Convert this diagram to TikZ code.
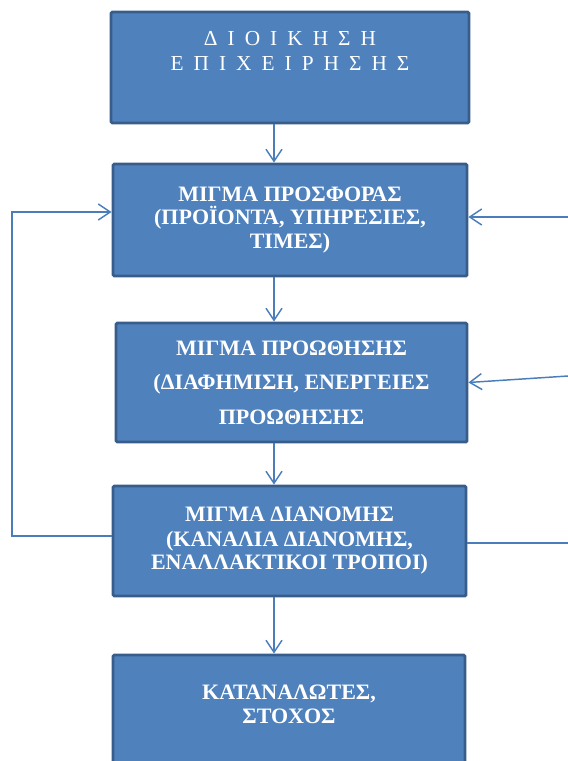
\documentclass[tikz,border=0pt]{standalone}
\usepackage{fontspec}
\setmainfont{Liberation Serif}
\usetikzlibrary{arrows.meta,positioning}
\definecolor{boxfill}{HTML}{4F81BD}
\definecolor{boxline}{HTML}{385D8A}
\definecolor{linkblue}{HTML}{4A7EBB}
\tikzstyle{l2}=[line width=1.1pt]
\tikzstyle{box}=[rectangle, draw=boxline, fill=boxfill, line width=2.2pt, rounded corners=1pt, text=white, align=center, inner sep=0pt, font=\bfseries\fontsize{16.5}{17.5}\selectfont]
\tikzstyle{titlebox}=[box, font=\fontsize{16}{19}\selectfont\addfontfeature{LetterSpace=22}]
\tikzstyle{link}=[l2, color=linkblue]

\begin{document}
\begin{tikzpicture}[x=0.75pt, y=-0.75pt, >={Straight Barb[length=9pt,width=12pt]}]
    \useasboundingbox (0,0) rectangle (568,761);

    \node (mgmt) [titlebox, minimum width=268.5pt, minimum height=83.25pt] at (290,67.5)
        {Δ Ι Ο Ι Κ Η Σ Η\\ Ε Π Ι Χ Ε Ι Ρ Η Σ Η Σ\\[6pt] ~};
    \node (offer) [box, minimum width=265.5pt, minimum height=84pt] at (290,220)
        {ΜΙΓΜΑ ΠΡΟΣΦΟΡΑΣ\\ (ΠΡΟΪΟΝΤΑ, ΥΠΗΡΕΣΙΕΣ,\\ ΤΙΜΕΣ)};
    \node (promo) [box, minimum width=263.25pt, minimum height=89.25pt, font=\bfseries\fontsize{16.5}{26}\selectfont] at (291.5,382.5)
        {ΜΙΓΜΑ ΠΡΟΩΘΗΣΗΣ\\ (ΔΙΑΦΗΜΙΣΗ, ΕΝΕΡΓΕΙΕΣ\\ ΠΡΟΩΘΗΣΗΣ};
    \node (dist) [box, minimum width=264.75pt, minimum height=82.5pt, font=\bfseries\fontsize{16.5}{18.5}\selectfont] at (289.5,541)
        {ΜΙΓΜΑ ΔΙΑΝΟΜΗΣ\\ (ΚΑΝΑΛΙΑ ΔΙΑΝΟΜΗΣ,\\[-1pt] ΕΝΑΛΛΑΚΤΙΚΟΙ ΤΡΟΠΟΙ)};
    \node (target) [box, minimum width=264pt, minimum height=83.25pt] at (289,710.5)
        {ΚΑΤΑΝΑΛΩΤΕΣ,\\ ΣΤΟΧΟΣ\\[-8pt] ~};

    \coordinate (axis) at (274,0);
    \coordinate (lb) at (12,536);
    \coordinate (lt) at (12,212);
    \coordinate (in1) at (568,217);
    \coordinate (in2) at (568,376);
    \coordinate (out1) at (568,543);

    \draw[link, ->] (mgmt.south -| axis) -- (offer.north -| axis);
    \draw[link, ->] (offer.south -| axis) -- (promo.north -| axis);
    \draw[link, ->] (promo.south -| axis) -- (dist.north -| axis);
    \draw[link, ->] (dist.south -| axis) -- (target.north -| axis);

    % feedback from distribution back to the offer
    \draw[link, ->] (dist.west |- lb) -- (lb) -- (lt) -- (offer.west |- lt);
    \draw[link, ->] (in1) -- (offer.east |- in1);
    \draw[link, ->] (in2) -- (promo.east);
    \draw[link] (dist.east |- out1) -- (out1);
\end{tikzpicture}
\end{document}
